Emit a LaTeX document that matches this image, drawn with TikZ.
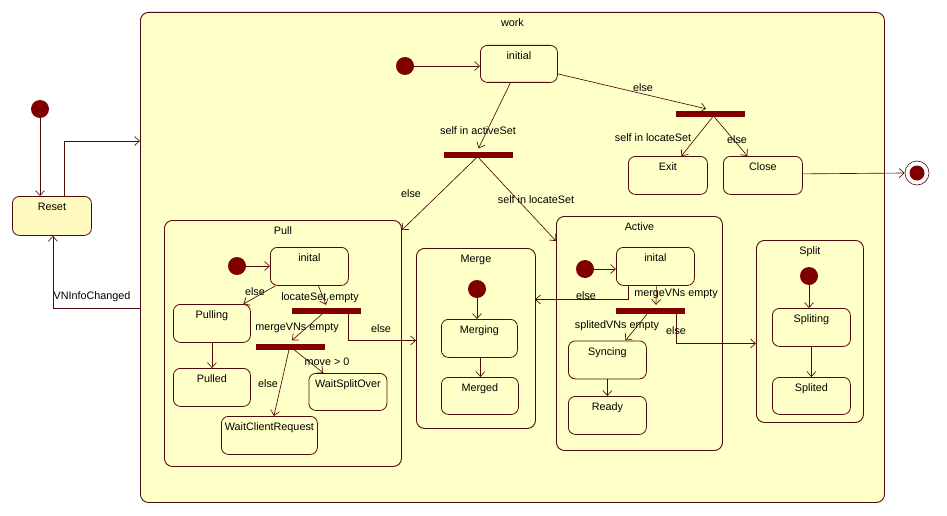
\documentclass[tikz,border=0pt]{standalone}
\usepackage{fontspec}
\setmainfont{Liberation Sans}
\usetikzlibrary{arrows.meta,calc}
\definecolor{stfill}{HTML}{FFFFC8}
\definecolor{rsfill}{HTML}{FFFAC0}
\definecolor{ln}{HTML}{4E0A0A}
\definecolor{dotc}{HTML}{800000}
\begin{document}
\begin{tikzpicture}[x=1pt,y=-1pt,font=\fontsize{10.8}{12}\selectfont,
  frame/.style={draw=ln, fill=stfill, line width=0.9pt, rounded corners=8pt, anchor=north west, inner sep=0},
  stbox/.style={draw=ln, fill=stfill, line width=0.8pt, rounded corners=7pt, anchor=north west, inner sep=0},
  ttl/.style={inner sep=0, anchor=north, yshift=-6.5pt},
  dot/.style={circle, fill=dotc, minimum size=18pt, inner sep=0},
  bar/.style={fill=dotc, minimum width=69pt, minimum height=6pt, inner sep=0},
  arr/.style={draw=ln, line width=0.65pt, -{Straight Barb[length=5pt,width=9pt]}},
  lbl/.style={inner sep=0}]
\fill[white] (0,0) rectangle (947,516);
\useasboundingbox (0,0) rectangle (947,516);

% outer
\node[dot] (i0) at (40,109) {};
\node[stbox, fill=rsfill, minimum width=79pt, minimum height=39pt, label={[ttl]north:Reset}] (reset) at (12,196) {};
\node[frame, minimum width=744pt, minimum height=490pt, label={[ttl]north:work}] (work) at (140,12) {};
\node[circle, draw=ln, fill=white, minimum size=24pt, inner sep=0, line width=0.6pt] (final) at (917,173) {};
\node[dot, minimum size=15pt] (finalin) at (final) {};

% work contents
\node[dot] (wi) at (405,66) {};
\node[stbox, minimum width=77pt, minimum height=37pt, label={[ttl]north:initial}] (initial) at (480,45) {};
\node[bar] (fork1) at (478.5,154.5) {};
\node[bar] (fork2) at (710.5,114) {};
\node[stbox, minimum width=79pt, minimum height=38pt, label={[ttl]north:Exit}] (exit) at (628,156) {};
\node[stbox, minimum width=79pt, minimum height=38pt, label={[ttl]north:Close}] (close) at (723,156) {};

% Pull
\node[frame, minimum width=237pt, minimum height=246pt, label={[ttl]north:Pull}] (pull) at (164,220) {};
\node[dot] (pdot) at (237,266) {};
\node[stbox, minimum width=78pt, minimum height=38pt, label={[ttl]north:inital}] (pinit) at (270,247) {};
\node[stbox, minimum width=77pt, minimum height=38pt, label={[ttl]north:Pulling}] (pulling) at (173,304) {};
\node[stbox, minimum width=77pt, minimum height=38pt, label={[ttl]north:Pulled}] (pulled) at (173,368) {};
\node[bar] (forkp1) at (326,311) {};
\node[bar] (forkp2) at (290,346.5) {};
\node[stbox, minimum width=78pt, minimum height=37pt, label={[ttl]north:WaitSplitOver}] (wso) at (308.5,373) {};
\node[stbox, minimum width=96pt, minimum height=38pt, label={[ttl]north:WaitClientRequest}] (wcr) at (221,416) {};

% Merge
\node[frame, minimum width=119pt, minimum height=180pt, label={[ttl]north:Merge}] (merge) at (416,248) {};
\node[dot] (mdot) at (477,289) {};
\node[stbox, minimum width=76pt, minimum height=38pt, label={[ttl]north:Merging}] (merging) at (441,319) {};
\node[stbox, minimum width=77pt, minimum height=37pt, label={[ttl]north:Merged}] (merged) at (441,377) {};

% Active
\node[frame, minimum width=166pt, minimum height=234pt, label={[ttl]north:Active}] (active) at (556,216) {};
\node[dot] (adot) at (585,269) {};
\node[stbox, minimum width=78pt, minimum height=38pt, label={[ttl]north:inital}] (ainit) at (616,247) {};
\node[bar] (forka) at (650,311) {};
\node[stbox, minimum width=78pt, minimum height=38pt, label={[ttl]north:Syncing}] (sync) at (568,340.5) {};
\node[stbox, minimum width=78pt, minimum height=38pt, label={[ttl]north:Ready}] (ready) at (568,396) {};

% Split
\node[frame, minimum width=107pt, minimum height=182pt, label={[ttl]north:Split}] (split) at (756,240) {};
\node[dot] (sdot) at (809,276) {};
\node[stbox, minimum width=78pt, minimum height=38pt, label={[ttl]north:Spliting}] (spliting) at (772,308) {};
\node[stbox, minimum width=78pt, minimum height=37pt, label={[ttl]north:Splited}] (splited) at (772,377) {};

% helper coordinates
\coordinate (rw) at (140,141);
\coordinate (wv) at (140,308);
\coordinate (ame) at (535,299.5);
\coordinate (asp) at (756,343.5);

% connectors
\draw[arr] (i0) -- (i0 |- reset.north);
\draw[arr] ([xshift=12pt]reset.north) |- (rw);
\draw[arr] (wv) -| ([xshift=1pt]reset.south);
\draw[arr] (wi) -- (wi -| initial.west);
\draw[arr] ([xshift=-8.5pt]initial.south) -- ([yshift=3pt]fork1.north);
\draw[arr] ([yshift=-10pt]initial.east) -- ([xshift=-4.5pt,yshift=2pt]fork2.north);
\draw[arr] ([xshift=2pt]fork2.south) -- ([xshift=13.5pt]exit.north);
\draw[arr] ([xshift=4pt]fork2.south) -- ([xshift=-15.5pt]close.north);
\draw[arr] ([yshift=1.5pt]close.east) -- (final.west);
\draw[arr] ([xshift=-2pt]fork1.south) -- ([yshift=-10pt]pull.north east);
\draw[arr] ([xshift=0pt]fork1.south) -- ([yshift=-25pt]active.north west);

\draw[arr] (pdot) -- (pdot -| pinit.west);
\draw[arr] ([xshift=-34pt]pinit.south) -- ([xshift=31.5pt]pulling.north);
\draw[arr] ([xshift=9pt]pinit.south) -- ([yshift=3pt]forkp1.north);
\draw[arr] ([xshift=22pt]forkp1.south) |- ([yshift=-2pt]merge.west);
\draw[arr] ([xshift=-4pt]forkp1.south) -- ([xshift=2pt,yshift=3pt]forkp2.north);
\draw[arr] ([xshift=4pt]forkp2.south) -- ([xshift=-24.5pt]wso.north);
\draw[arr] ([xshift=-1pt]forkp2.south) -- ([xshift=4.5pt]wcr.north);
\draw[arr] (pulling.south) -- (pulled.north);

\draw[arr] (mdot) -- (mdot |- merging.north);
\draw[arr] ([xshift=1pt]merging.south) -- ([xshift=0.5pt]merged.north);

\draw[arr] (adot) -- (adot -| ainit.west);
\draw[arr] ([xshift=-27pt]ainit.south) |- (ame);
\draw[arr] ([xshift=1pt]ainit.south) -- ([xshift=6pt,yshift=3pt]forka.north);
\draw[arr] ([xshift=-3pt]forka.south) -- ([xshift=18pt]sync.north);
\draw[arr] ([xshift=26pt]forka.south) |- (asp);
\draw[arr] (sync.south) -- (ready.north);

\draw[arr] (sdot) -- (sdot |- spliting.north);
\draw[arr] (spliting.south) -- (splited.north);

% connector labels
\node[lbl] (l1) at (478,131) {self in activeSet};
\node[lbl] (l2) at (643,88) {else};
\node[lbl] (l3) at (653,138) {self in locateSet};
\node[lbl] (l4) at (737,140) {else};
\node[lbl] (l5) at (411,194) {else};
\node[lbl] (l6) at (536,200) {self in locateSet};
\node[lbl] (l7) at (92,297) {VNInfoChanged};
\node[lbl] (l8) at (255,292) {else};
\node[lbl] (l9) at (320,298) {locateSet empty};
\node[lbl] (l10) at (381,329) {else};
\node[lbl] (l11) at (297,328) {mergeVNs empty};
\node[lbl] (l12) at (327,362) {move > 0};
\node[lbl] (l13) at (268,384) {else};
\node[lbl] (l14) at (586,296) {else};
\node[lbl] (l15) at (676,294) {mergeVNs empty};
\node[lbl] (l16) at (617,326) {splitedVNs empty};
\node[lbl] (l17) at (676,331) {else};
\end{tikzpicture}
\end{document}
